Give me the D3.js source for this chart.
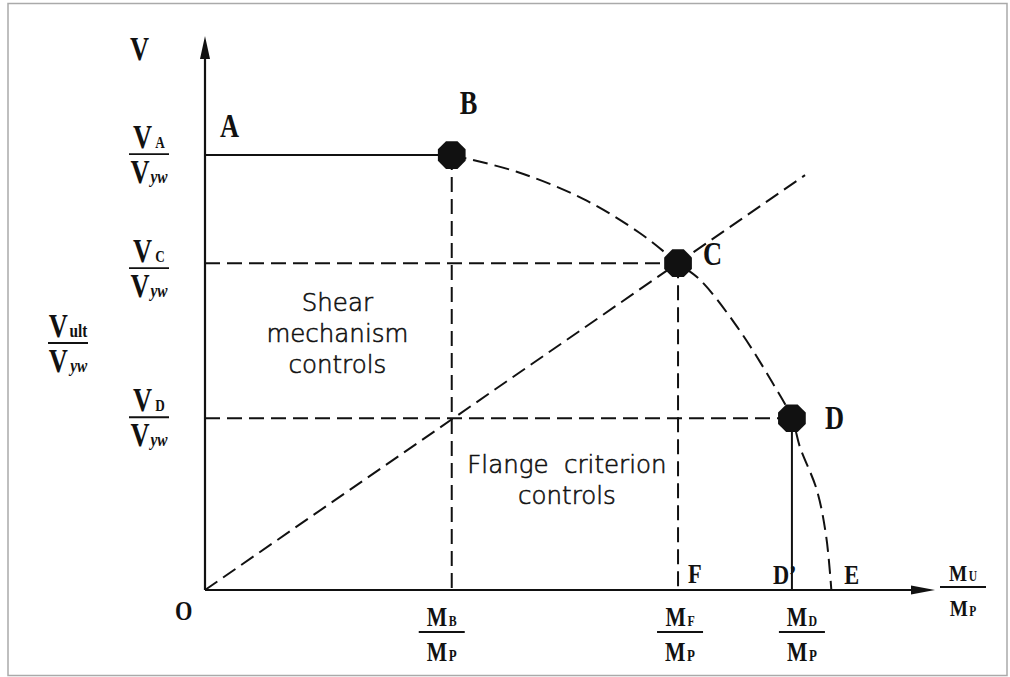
<!DOCTYPE html>
<html>
<head>
<meta charset="utf-8">
<script src="https://cdn.jsdelivr.net/npm/d3@7"></script>
<style>
body { margin: 0; background: #fff; }
</style>
</head>
<body>
<div class="svg"></div>
<script>
// Interaction diagram: V/Vyw against M/Mp
var pointNames = ["B", "C", "D"];
var pointM = [0.338, 0.648, 0.804];
var pointV = [0.785, 0.590, 0.310];

// dashed interaction curve B -> C -> D -> E
var curveM = [0.338, 0.427, 0.518, 0.596, 0.648, 0.678, 0.729, 0.777, 0.804, 0.815, 0.838, 0.851, 0.858];
var curveV = [0.785, 0.755, 0.706, 0.644, 0.590, 0.560, 0.475, 0.375, 0.310, 0.258, 0.181, 0.096, 0];

var pointE = 0.858;
var rayEnd = [0.822, 0.749];

var vSubs = ["A", "C", "D"];
var mSubs = ["B", "F", "D"];
var shearText = ["Shear", "mechanism", "controls"];
var flangeText = ["Flange  criterion", "controls"];

var width = 1010, height = 677;
var ink = "#111";
var serif = "'Liberation Serif', 'DejaVu Serif', serif";

var svg = d3.select(".svg").append("svg").attr("width", width).attr("height", height);
svg.append("rect").attr("x", 0).attr("y", 0).attr("width", width).attr("height", height).attr("fill", "#fff");
// thin grey frame round the picture
svg.append("rect").attr("x", 8).attr("y", 3.5).attr("width", 999).attr("height", 672)
    .attr("fill", "none").attr("stroke", "#aaa").attr("stroke-width", 1.5);

var x = d3.scaleLinear().domain([0, 1]).range([205, 935]);
var y = d3.scaleLinear().domain([0, 1]).range([590, 36]);

var dash = "15,7";

function line(m1, v1, m2, v2, dashed, w) {
    svg.append("line")
        .attr("x1", x(m1)).attr("y1", y(v1)).attr("x2", x(m2)).attr("y2", y(v2))
        .attr("stroke", ink).attr("stroke-width", w || 2)
        .attr("stroke-dasharray", dashed ? dash : null);
}

// axes with arrow heads
line(0, 0, 0.985, 0, false, 2.2);
line(0, 0, 0, 0.97, false, 2.2);
svg.append("path")
    .attr("d", "M" + x(1) + "," + y(0) + "L" + (x(1) - 24) + "," + (y(0) - 4.5) + "L" + (x(1) - 24) + "," + (y(0) + 4.5) + "Z")
    .attr("fill", ink);
svg.append("path")
    .attr("d", "M" + x(0) + "," + y(1) + "L" + (x(0) - 5) + "," + (y(1) + 23) + "L" + (x(0) + 5) + "," + (y(1) + 23) + "Z")
    .attr("fill", ink);

// solid A-B and D-D'
line(0, pointV[0], pointM[0], pointV[0], false, 2);
line(pointM[2], pointV[2], pointM[2], 0, false, 2);

// dashed guides
line(pointM[0], pointV[0], pointM[0], 0, true);
line(0, pointV[1], pointM[1], pointV[1], true);
line(pointM[1], pointV[1], pointM[1], 0, true);
line(0, pointV[2], pointM[2], pointV[2], true);
line(0, 0, rayEnd[0], rayEnd[1], true);

// interaction curve
var curvePts = curveM.map(function(m, i) { return [x(m), y(curveV[i])]; });
svg.append("path")
    .attr("d", d3.line().curve(d3.curveCatmullRom.alpha(0.5))(curvePts))
    .attr("fill", "none").attr("stroke", ink).attr("stroke-width", 2)
    .attr("stroke-dasharray", dash);

// octagon markers
var octagon = d3.range(8).map(function(k) {
    var a = Math.PI / 8 + k * Math.PI / 4;
    return [15 * Math.cos(a), 15 * Math.sin(a)];
});
pointNames.forEach(function(n, i) {
    svg.append("path")
        .attr("d", d3.line()(octagon) + "Z")
        .attr("transform", "translate(" + x(pointM[i]) + "," + y(pointV[i]) + ")")
        .attr("fill", ink);
});

// serif text built from parts: [text, relative size, italic, dx]
function serifText(px, py, parts, size, anchor) {
    var t = svg.append("text")
        .attr("transform", "translate(" + px + "," + py + ") scale(0.8,1)")
        .attr("font-family", serif).attr("font-weight", "bold")
        .attr("font-size", size).attr("fill", ink)
        .attr("text-anchor", anchor || "start");
    parts.forEach(function(p) {
        t.append("tspan").text(p[0])
            .attr("font-size", size * p[1])
            .attr("font-style", p[2] ? "italic" : null)
            .attr("dx", p[3] || 0);
    });
    return t;
}

function fraction(cx, ly, num, den, size, half) {
    serifText(cx, ly - 6, num, size, "middle");
    svg.append("line").attr("x1", cx - half).attr("x2", cx + half).attr("y1", ly).attr("y2", ly)
        .attr("stroke", ink).attr("stroke-width", 1.8);
    serifText(cx, ly + 29, den, size, "middle");
}

// V fractions on the left
var vDy = [-1, 5, -1];
vSubs.forEach(function(s, i) {
    fraction(149, y(pointV[i]) + vDy[i], [["V", 1], [s, 0.5, false, 4]], [["V", 1], ["yw", 0.58, true, 1]], 33, 20);
});
fraction(68, 343, [["V", 1], ["ult", 0.58, false, 2]], [["V", 1], ["yw", 0.58, true, 3]], 33, 20);

// M fractions below the x axis
var mDx = [-10, 2, 10];
mSubs.forEach(function(s, i) {
    fraction(x(pointM[i]) + mDx[i], y(0) + 42, [["M", 1], [s, 0.55, false, 2]], [["M", 1], ["P", 0.6, false, 2]], 27, 23);
});
fraction(963, y(0) - 3, [["M", 1], ["U", 0.6, false, 2]], [["M", 1], ["P", 0.6, false, 2]], 24, 23);

// axis and point letters
serifText(130, 60, [["V", 1]], 33);
serifText(175, 620, [["O", 1]], 28);
serifText(x(0) + 15, y(pointV[0]) - 18, [["A", 1]], 33);
serifText(x(pointM[0]) + 8, y(pointV[0]) - 41, [["B", 1]], 33);
serifText(x(pointM[1]) + 25, y(pointV[1]) + 2, [["C", 1]], 33);
serifText(x(pointM[2]) + 33, y(pointV[2]) + 11, [["D", 1]], 33);
serifText(x(pointM[1]) + 10, y(0) - 7, [["F", 1]], 28);
serifText(x(pointM[2]) - 19, y(0) - 6, [["D\u2019", 1]], 28);
serifText(x(pointE) + 13, y(0) - 6, [["E", 1]], 28);

// region notes
function note(lines, cx, firstBase) {
    lines.forEach(function(l, i) {
        svg.append("text").attr("x", cx).attr("y", firstBase + i * 31)
            .attr("text-anchor", "middle")
            .attr("font-family", "'DejaVu Sans', sans-serif").attr("font-weight", 200)
            .attr("font-size", 24.5).attr("fill", ink)
            .attr("stroke", ink).attr("stroke-width", 0.6)
            .style("white-space", "pre")
            .text(l);
    });
}
note(shearText, (x(0) + x(pointM[0])) / 2 + 9, (y(pointV[1]) + y(pointV[2])) / 2 - 30);
note(flangeText, (x(pointM[0]) + x(pointM[1])) / 2 + 2, (y(pointV[2]) + y(0)) / 2 - 31);
</script>
</body>
</html>
